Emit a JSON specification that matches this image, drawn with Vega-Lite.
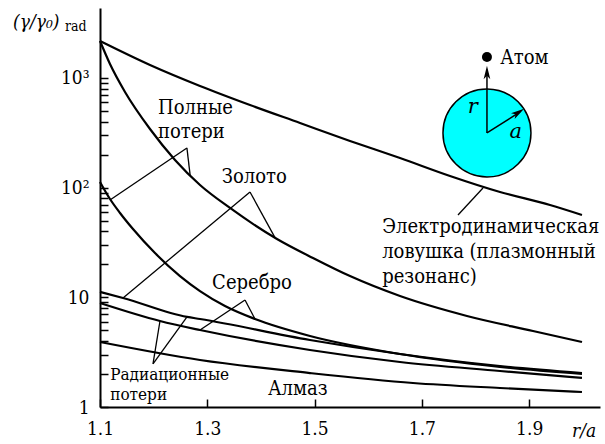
{
  "$schema": "https://vega.github.io/schema/vega-lite/v6.json",
  "width": 500,
  "height": 399,
  "autosize": "none",
  "padding": {"left": 100, "top": 8, "right": 5, "bottom": 37},
  "background": "white",
  "config": {
    "font": "DejaVu Serif",
    "view": {"stroke": null},
    "axis": {
      "grid": false,
      "title": null,
      "domainColor": "black",
      "domainWidth": 2,
      "tickColor": "black",
      "tickWidth": 1.5,
      "tickSize": -8,
      "labelColor": "black",
      "labelFont": "DejaVu Serif Condensed",
      "labelFontSize": 19,
      "labelFlush": false,
      "labelOverlap": false
    }
  },
  "datasets": {
    "curves": [
      {"s": "trap", "x": 1.1, "y": 2169},
      {"s": "trap", "x": 1.1932, "y": 1311},
      {"s": "trap", "x": 1.2864, "y": 844},
      {"s": "trap", "x": 1.3796, "y": 566},
      {"s": "trap", "x": 1.4728, "y": 388},
      {"s": "trap", "x": 1.566, "y": 266},
      {"s": "trap", "x": 1.6592, "y": 186},
      {"s": "trap", "x": 1.7524, "y": 127.6},
      {"s": "trap", "x": 1.8456, "y": 91.2},
      {"s": "trap", "x": 1.9388, "y": 69.4},
      {"s": "trap", "x": 1.9984, "y": 56.3},
      {"s": "goldFull", "x": 1.1, "y": 2169},
      {"s": "goldFull", "x": 1.1186, "y": 1338},
      {"s": "goldFull", "x": 1.1466, "y": 744},
      {"s": "goldFull", "x": 1.1932, "y": 342},
      {"s": "goldFull", "x": 1.2398, "y": 178.5},
      {"s": "goldFull", "x": 1.2864, "y": 105.6},
      {"s": "goldFull", "x": 1.3423, "y": 65.2},
      {"s": "goldFull", "x": 1.4299, "y": 34.0},
      {"s": "goldFull", "x": 1.497, "y": 22.8},
      {"s": "goldFull", "x": 1.566, "y": 15.6},
      {"s": "goldFull", "x": 1.6592, "y": 10.27},
      {"s": "goldFull", "x": 1.784, "y": 6.76},
      {"s": "goldFull", "x": 1.9071, "y": 4.93},
      {"s": "goldFull", "x": 1.9984, "y": 3.91},
      {"s": "silverFull", "x": 1.1, "y": 112.5},
      {"s": "silverFull", "x": 1.1186, "y": 78.7},
      {"s": "silverFull", "x": 1.1373, "y": 58.7},
      {"s": "silverFull", "x": 1.1615, "y": 41.9},
      {"s": "silverFull", "x": 1.2025, "y": 25.3},
      {"s": "silverFull", "x": 1.2491, "y": 15.6},
      {"s": "silverFull", "x": 1.2864, "y": 11.4},
      {"s": "silverFull", "x": 1.333, "y": 8.33},
      {"s": "silverFull", "x": 1.3889, "y": 6.34},
      {"s": "silverFull", "x": 1.4914, "y": 4.44},
      {"s": "silverFull", "x": 1.6592, "y": 3.04},
      {"s": "silverFull", "x": 1.8456, "y": 2.32},
      {"s": "silverFull", "x": 1.9984, "y": 2.0},
      {"s": "goldRad", "x": 1.1, "y": 11.2},
      {"s": "goldRad", "x": 1.1429, "y": 9.85},
      {"s": "goldRad", "x": 1.2622, "y": 6.62},
      {"s": "goldRad", "x": 1.2864, "y": 6.34},
      {"s": "goldRad", "x": 1.4914, "y": 4.08},
      {"s": "goldRad", "x": 1.6592, "y": 3.04},
      {"s": "goldRad", "x": 1.8456, "y": 2.36},
      {"s": "goldRad", "x": 1.9984, "y": 2.04},
      {"s": "silverRad", "x": 1.1, "y": 8.87},
      {"s": "silverRad", "x": 1.2118, "y": 6.08},
      {"s": "silverRad", "x": 1.2864, "y": 5.03},
      {"s": "silverRad", "x": 1.4914, "y": 3.31},
      {"s": "silverRad", "x": 1.6592, "y": 2.57},
      {"s": "silverRad", "x": 1.8456, "y": 2.13},
      {"s": "silverRad", "x": 1.9984, "y": 1.84},
      {"s": "diamond", "x": 1.1, "y": 3.91},
      {"s": "diamond", "x": 1.2864, "y": 2.68},
      {"s": "diamond", "x": 1.4914, "y": 2.04},
      {"s": "diamond", "x": 1.6834, "y": 1.655},
      {"s": "diamond", "x": 1.8456, "y": 1.49},
      {"s": "diamond", "x": 1.9984, "y": 1.37}
    ],
    "leaders": [
      {"x": 1.262, "y": 230, "x2": 1.268, "y2": 130},
      {"x": 1.262, "y": 230, "x2": 1.1186, "y2": 77.1},
      {"x": 1.3796, "y": 91.2, "x2": 1.4262, "y2": 35},
      {"x": 1.3796, "y": 91.2, "x2": 1.1429, "y2": 9.85},
      {"x": 1.3703, "y": 9.45, "x2": 1.3889, "y2": 6.34},
      {"x": 1.3703, "y": 9.45, "x2": 1.2864, "y2": 5.03},
      {"x": 1.1988, "y": 2.47, "x2": 1.2118, "y2": 6.08},
      {"x": 1.1988, "y": 2.47, "x2": 1.2622, "y2": 6.62},
      {"x": 1.8139, "y": 99.2, "x2": 1.7673, "y2": 56.3}
    ],
    "sphere": [{"x": 1.8213, "y": 315}],
    "atom": [{"x": 1.8213, "y": 1551}],
    "arrows": [
      {"x": 1.8213, "y": 315, "x2": 1.8213, "y2": 1180},
      {"x": 1.8213, "y": 315, "x2": 1.8829, "y2": 489}
    ],
    "headUp": [{"x": 1.8213, "y": 1120}],
    "headDiag": [{"x": 1.88, "y": 484}],
    "labels": [
      {"t": "Полные", "x": 1.208, "y": 464},
      {"t": "потери", "x": 1.208, "y": 283},
      {"t": "Золото", "x": 1.327, "y": 110},
      {"t": "Серебро", "x": 1.309, "y": 11.9},
      {"t": "Алмаз", "x": 1.413, "y": 1.286},
      {"t": "Электродинамическая", "x": 1.626, "y": 38.6},
      {"t": "ловушка (плазмонный", "x": 1.626, "y": 22.8},
      {"t": "резонанс)", "x": 1.626, "y": 13.5},
      {"t": "Атом", "x": 1.846, "y": 1339}
    ],
    "smallLabels": [
      {"t": "Радиационные", "x": 1.119, "y": 1.76},
      {"t": "потери", "x": 1.119, "y": 1.158}
    ],
    "italicCenter": [
      {"t": "r", "x": 1.795, "y": 479},
      {"t": "a", "x": 1.875, "y": 283}
    ],
    "italicLeft": [
      {"t": "r/a", "x": 1.98, "y": 0.533},
      {"t": "(γ/γ₀)", "x": 0.938, "y": 2851}
    ],
    "sub": [{"t": "rad", "x": 1.0348, "y": 2677}]
  },
  "encoding": {
    "x": {
      "field": "x",
      "type": "quantitative",
      "scale": {"domain": [1.1, 2.032], "nice": false, "zero": false},
      "axis": {"values": [1.1, 1.3, 1.5, 1.7, 1.9], "format": ".1f", "labelPadding": 20}
    },
    "y": {
      "field": "y",
      "type": "quantitative",
      "scale": {"type": "log", "domain": [1, 4337], "nice": false},
      "axis": {
        "values": [1, 2, 3, 4, 5, 6, 7, 8, 9, 10, 20, 30, 40, 50, 60, 70, 80, 90, 100, 200, 300, 400, 500, 600, 700, 800, 900, 1000],
        "labelExpr": "datum.value == 1 ? '1' : datum.value == 10 ? '10' : datum.value == 100 ? '10²' : datum.value == 1000 ? '10³' : ''",
        "labelPadding": 19
      }
    }
  },
  "layer": [
    {
      "data": {"name": "curves"},
      "mark": {"type": "line", "color": "black", "strokeWidth": 2.2, "interpolate": "monotone"},
      "encoding": {"detail": {"field": "s", "type": "nominal"}}
    },
    {
      "data": {"name": "leaders"},
      "mark": {"type": "rule", "color": "black", "strokeWidth": 1.3},
      "encoding": {"x2": {"field": "x2"}, "y2": {"field": "y2"}}
    },
    {
      "data": {"name": "sphere"},
      "mark": {"type": "point", "shape": "circle", "filled": true, "fill": "#00FFFF", "stroke": "black", "strokeWidth": 1.5, "size": 7744, "opacity": 1}
    },
    {
      "data": {"name": "arrows"},
      "mark": {"type": "rule", "color": "black", "strokeWidth": 1.5},
      "encoding": {"x2": {"field": "x2"}, "y2": {"field": "y2"}}
    },
    {
      "data": {"name": "headUp"},
      "mark": {"type": "point", "shape": "M0,-1L0.5,1L0,0.5L-0.5,1Z", "filled": true, "color": "black", "size": 180, "opacity": 1}
    },
    {
      "data": {"name": "headDiag"},
      "mark": {"type": "point", "shape": "M0,-1L0.5,1L0,0.5L-0.5,1Z", "filled": true, "color": "black", "size": 180, "angle": 57, "opacity": 1}
    },
    {
      "data": {"name": "atom"},
      "mark": {"type": "point", "shape": "circle", "filled": true, "color": "black", "size": 100, "opacity": 1}
    },
    {
      "data": {"name": "labels"},
      "mark": {"type": "text", "align": "left", "baseline": "alphabetic", "fontSize": 20, "color": "black", "font": "DejaVu Serif Condensed"},
      "encoding": {"text": {"field": "t"}}
    },
    {
      "data": {"name": "smallLabels"},
      "mark": {"type": "text", "align": "left", "baseline": "alphabetic", "fontSize": 17, "color": "black", "font": "DejaVu Serif Condensed"},
      "encoding": {"text": {"field": "t"}}
    },
    {
      "data": {"name": "italicCenter"},
      "mark": {"type": "text", "align": "center", "baseline": "alphabetic", "fontSize": 21, "fontStyle": "italic", "color": "black", "font": "DejaVu Serif"},
      "encoding": {"text": {"field": "t"}}
    },
    {
      "data": {"name": "italicLeft"},
      "mark": {"type": "text", "align": "left", "baseline": "alphabetic", "fontSize": 19, "fontStyle": "italic", "color": "black", "font": "DejaVu Serif Condensed"},
      "encoding": {"text": {"field": "t"}}
    },
    {
      "data": {"name": "sub"},
      "mark": {"type": "text", "align": "left", "baseline": "alphabetic", "fontSize": 14, "color": "black", "font": "DejaVu Serif Condensed"},
      "encoding": {"text": {"field": "t"}}
    }
  ]
}
